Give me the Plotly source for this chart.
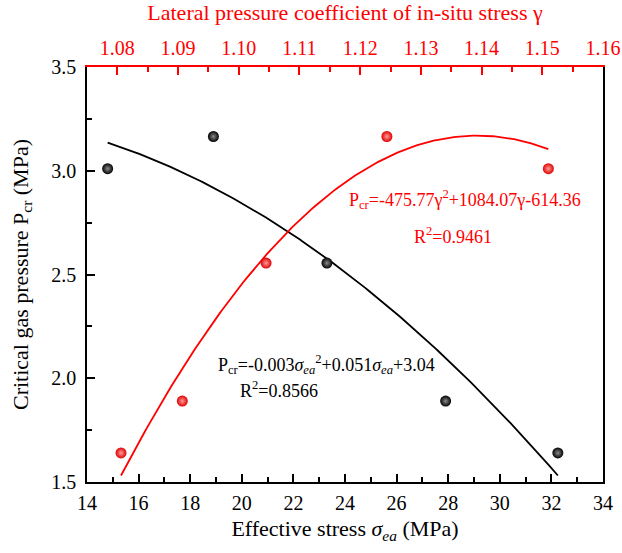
import numpy as np
import plotly.graph_objects as go

# Data
pcr = [3.01, 3.165, 2.555, 1.89, 1.64]            # critical gas pressure (MPa)
sigma_ea = [14.8, 18.9, 23.3, 27.9, 32.25]         # effective stress (MPa)
gamma_pcr = [1.64, 1.89, 2.555, 3.165, 3.01]       # Pcr for red series
gamma = [1.0806, 1.0907, 1.1045, 1.1244, 1.151]    # lateral pressure coefficient
red_coef = [-475.77, 1084.07, -614.36]             # printed fit for red series
gamma_ticks = [1.08, 1.09, 1.10, 1.11, 1.12, 1.13, 1.14, 1.15, 1.16]
gamma_ticktext = ["1.08", "1.09", "1.10", "1.11", "1.12", "1.13", "1.14", "1.15", "1.16"]

eq_black = "P<sub>cr</sub>=-0.003<i>σ<sub>ea</sub></i><sup>2</sup>+0.051<i>σ<sub>ea</sub></i>+3.04"
r2_black = "R<sup>2</sup>=0.8566"
eq_red = "P<sub>cr</sub>=-475.77γ<sup>2</sup>+1084.07γ-614.36"
r2_red = "R<sup>2</sup>=0.9461"

# quadratic fits
cb = np.polyfit(sigma_ea, pcr, 2)
xs_b = np.linspace(min(sigma_ea), max(sigma_ea), 200)
ys_b = np.polyval(cb, xs_b)
xs_r = np.linspace(min(gamma), max(gamma), 200)
ys_r = np.polyval(red_coef, xs_r)

FONT = "Liberation Serif, Times New Roman, serif"
TICK = 20
fig = go.Figure()

fig.add_trace(go.Scatter(x=xs_b, y=ys_b, mode="lines", line=dict(color="black", width=1.8),
                         xaxis="x", yaxis="y", showlegend=False, hoverinfo="skip"))
fig.add_trace(go.Scatter(x=sigma_ea, y=pcr, mode="markers",
                         marker=dict(size=11, color="black",
                                     gradient=dict(type="radial", color="#8a8a8a"),
                                     line=dict(width=0)),
                         xaxis="x", yaxis="y", showlegend=False))
fig.add_trace(go.Scatter(x=xs_r, y=ys_r, mode="lines", line=dict(color="red", width=1.8),
                         xaxis="x2", yaxis="y", showlegend=False, hoverinfo="skip",
                         cliponaxis=True))
fig.add_trace(go.Scatter(x=gamma, y=gamma_pcr, mode="markers",
                         marker=dict(size=11, color="#e00000",
                                     gradient=dict(type="radial", color="#ff9a9a"),
                                     line=dict(width=0)),
                         xaxis="x2", yaxis="y", showlegend=False))

fig.update_layout(
    width=622, height=553, autosize=False,
    margin=dict(l=87, r=19, t=67, b=71, autoexpand=False),
    paper_bgcolor="white", plot_bgcolor="white",
    font=dict(family=FONT, size=22, color="black"),
    xaxis=dict(
        range=[14, 34], dtick=2, showgrid=False, zeroline=False, automargin=False,
        showline=True, linecolor="black", linewidth=1.5, ticklabeloverflow="allow",
        ticks="inside", ticklen=8, tickwidth=1.5, tickcolor="black",
        minor=dict(dtick=1, ticks="inside", ticklen=5, tickwidth=1.5, tickcolor="black"),
        tickfont=dict(family=FONT, size=TICK), ticklabelstandoff=2,
        title=dict(text="Effective stress <i>σ<sub>ea</sub></i> (MPa)",
                   font=dict(family=FONT, size=22), standoff=8),
    ),
    xaxis2=dict(
        range=[1.075, 1.16], tickmode="array", tickvals=gamma_ticks,
        ticktext=gamma_ticktext, ticklabeloverflow="allow",
        overlaying="x", side="top", anchor="y", automargin=False,
        showgrid=False, zeroline=False,
        showline=True, linecolor="red", linewidth=1.5,
        ticks="inside", ticklen=8, tickwidth=1.5, tickcolor="red",
        minor=dict(dtick=0.005, tick0=1.075, ticks="inside", ticklen=5, tickwidth=1.5,
                   tickcolor="red"),
        tickfont=dict(family=FONT, size=TICK, color="red"), ticklabelstandoff=2,
        title=dict(text="Lateral pressure coefficient of in-situ stress γ",
                   font=dict(family=FONT, size=22, color="red"), standoff=12),
    ),
    yaxis=dict(
        range=[1.5, 3.5], dtick=0.5, tickformat=".1f", showgrid=False, zeroline=False,
        automargin=False, ticklabeloverflow="allow",
        showline=True, linecolor="black", linewidth=1.5, mirror=True,
        ticks="inside", ticklen=8, tickwidth=1.5, tickcolor="black",
        minor=dict(dtick=0.25, ticks="inside", ticklen=5, tickwidth=1.5, tickcolor="black"),
        tickfont=dict(family=FONT, size=TICK), ticklabelstandoff=5,
        title=dict(text="Critical gas pressure P<sub>cr</sub> (MPa)",
                   font=dict(family=FONT, size=22), standoff=17),
    ),
    annotations=[
        dict(text=eq_black, x=23.3, y=2.067, xref="x", yref="y", showarrow=False,
             font=dict(family=FONT, size=18, color="black")),
        dict(text=r2_black, x=21.45, y=1.947, xref="x", yref="y", showarrow=False,
             font=dict(family=FONT, size=18, color="black")),
        dict(text=eq_red, x=28.65, y=2.86, xref="x", yref="y", showarrow=False,
             font=dict(family=FONT, size=18, color="red")),
        dict(text=r2_red, x=28.2, y=2.69, xref="x", yref="y", showarrow=False,
             font=dict(family=FONT, size=18, color="red")),
    ],
)

fig.write_html("out.html")
